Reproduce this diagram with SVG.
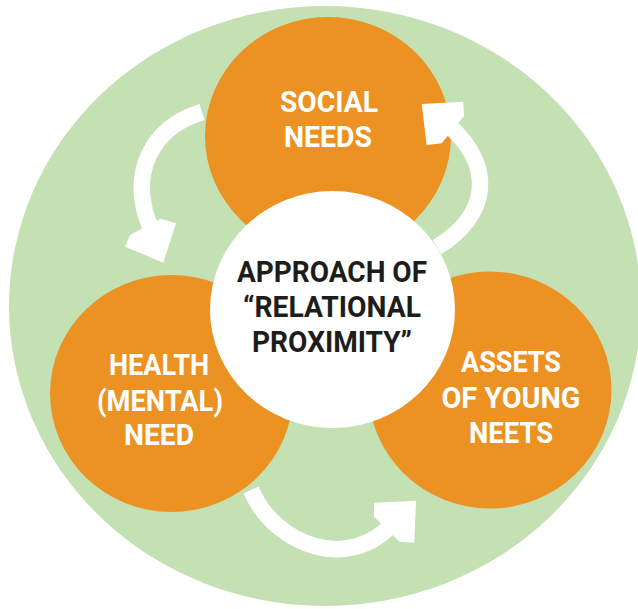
<svg xmlns="http://www.w3.org/2000/svg" width="638" height="609" viewBox="0 0 638 609">
  <style>
    .bg { fill: #c4e1b4; }
    .petal { fill: #ec9223; }
    .hub { fill: #ffffff; }
    .label { font-family: Roboto, "Liberation Sans", Arial, sans-serif; font-weight: 700; font-size: 29px; text-anchor: middle; }
    .light { fill: #ffffff; }
    .dark { fill: #1d1d1b; }
    .shaft { fill: none; stroke: #ffffff; stroke-width: 16.5; stroke-linecap: butt; }
    .head { fill: #ffffff; }
  </style>

  <!-- outer field -->
  <g id="background">
    <ellipse class="bg" cx="325" cy="306" rx="316" ry="300"/>
  </g>

  <!-- three surrounding needs -->
  <g id="node-social">
    <ellipse class="petal" cx="328" cy="136" rx="123" ry="119"/>
  </g>
  <g id="node-health">
    <ellipse class="petal" cx="171.5" cy="393.5" rx="121.5" ry="118.5"/>
  </g>
  <g id="node-assets">
    <ellipse class="petal" cx="490" cy="390" rx="121.5" ry="118.5"/>
  </g>

  <!-- central approach -->
  <g id="node-center">
    <ellipse class="hub" cx="332.5" cy="309.5" rx="122.5" ry="118.5"/>
  </g>

  <!-- cycle arrows -->
  <g id="connectors">
    <!-- social -> health -->
    <path class="shaft" d="M202,112 C150,128 128,175 151,229"/>
    <polygon class="head" points="130,235 125,246.7 163.3,262.7 176,223.3 160.7,218.7"/>
    <!-- health -> assets -->
    <path class="shaft" d="M251,490 C276,547 350,572 393,523"/>
    <polygon class="head" points="374,516.7 374,502.7 416,500.7 414.3,542.7 399.3,541.7"/>
    <!-- assets -> social -->
    <path class="shaft" d="M437,247 C490,215 495,165 447,124"/>
    <polygon class="head" points="421.7,104 463.3,101.7 464,116 441.7,143.3 426.7,145"/>
  </g>

  <!-- labels -->
  <g id="labels">
    <text class="label light" x="329" y="112" textLength="98" lengthAdjust="spacingAndGlyphs">SOCIAL</text>
    <text class="label light" x="328" y="147" textLength="88" lengthAdjust="spacingAndGlyphs">NEEDS</text>

    <text class="label dark" x="332" y="281.5" textLength="190" lengthAdjust="spacingAndGlyphs">APPROACH OF</text>
    <text class="label dark" x="332" y="316.5" textLength="178" lengthAdjust="spacingAndGlyphs">“RELATIONAL</text>
    <text class="label dark" x="332" y="351.5" textLength="160" lengthAdjust="spacingAndGlyphs">PROXIMITY”</text>

    <text class="label light" x="159" y="375" textLength="100" lengthAdjust="spacingAndGlyphs">HEALTH</text>
    <text class="label light" x="160" y="411" textLength="126" lengthAdjust="spacingAndGlyphs">(MENTAL)</text>
    <text class="label light" x="159" y="445" textLength="70" lengthAdjust="spacingAndGlyphs">NEED</text>

    <text class="label light" x="511" y="372" textLength="100" lengthAdjust="spacingAndGlyphs">ASSETS</text>
    <text class="label light" x="511" y="408" textLength="139" lengthAdjust="spacingAndGlyphs">OF YOUNG</text>
    <text class="label light" x="511" y="443" textLength="84" lengthAdjust="spacingAndGlyphs">NEETS</text>
  </g>
</svg>
